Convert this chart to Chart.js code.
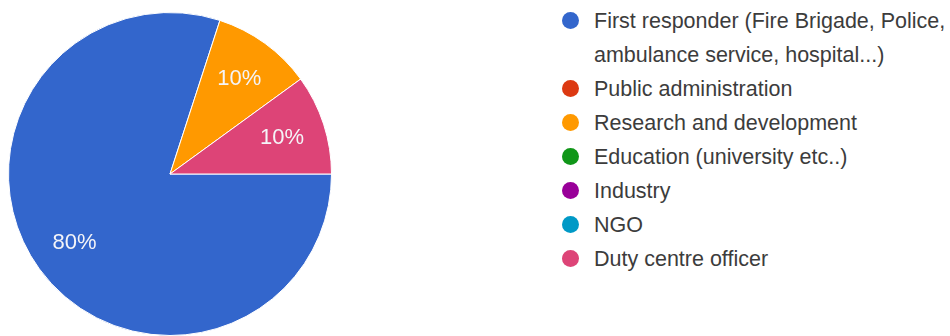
<!DOCTYPE html>
<html>
<head>
<meta charset="utf-8">
<script src="https://cdn.jsdelivr.net/npm/chart.js@4/dist/chart.umd.min.js"></script>
<style>
	html, body { margin: 0; padding: 0; background: #fff; }
	#wrap { position: relative; width: 950px; height: 336px; overflow: hidden; }
	#pieBox { position: absolute; left: 8px; top: 12px; width: 324px; height: 324px; }
	#legend { position: absolute; left: 562px; top: 4px; margin: 0; padding: 0; list-style: none;
		font-family: "Liberation Sans", Arial, sans-serif; font-size: 21.5px; line-height: 34px; color: #3c3c3c; }
	#legend li { position: relative; padding-left: 32px; width: 356px; white-space: normal; }
	#legend .dot { position: absolute; left: 0; top: 8px; width: 17px; height: 17px; border-radius: 50%; }
</style>
</head>
<body>
<div id="wrap">
	<div id="pieBox"><canvas id="chart1"></canvas></div>
	<ul id="legend"></ul>
</div>
<script>
//answers per group
var labels = [
	"First responder (Fire Brigade, Police, ambulance service, hospital...)",
	"Public administration",
	"Research and development",
	"Education (university etc..)",
	"Industry",
	"NGO",
	"Duty centre officer"
];
var counts = [8, 0, 1, 0, 0, 0, 1];
var colors = ["#3366cc", "#dc3912", "#ff9900", "#109618", "#990099", "#0099c6", "#dd4477"];

//build the legend list on the right
var legend = document.getElementById("legend");
for (var i = 0; i < labels.length; i++) {
	var li = document.createElement("li");
	var dot = document.createElement("span");
	dot.className = "dot";
	dot.style.background = colors[i];
	li.appendChild(dot);
	li.appendChild(document.createTextNode(labels[i]));
	legend.appendChild(li);
}

//writes the percentage inside each slice
var percentLabels = {
	id: "percentLabels",
	afterDatasetsDraw: function(chart) {
		var ctx = chart.ctx;
		var meta = chart.getDatasetMeta(0);
		var data = chart.data.datasets[0].data;
		var total = 0;
		for (var i = 0; i < data.length; i++) total += data[i];
		ctx.save();
		ctx.font = "22px 'Liberation Sans', Arial, sans-serif";
		ctx.fillStyle = "#f4f4f8";
		ctx.textAlign = "center";
		ctx.textBaseline = "middle";
		meta.data.forEach(function(arc, i) {
			if (!data[i]) return;
			var p = arc.getProps(["x", "y", "startAngle", "endAngle", "outerRadius"], true);
			var mid = (p.startAngle + p.endAngle) / 2;
			var r = p.outerRadius * 0.73;
			ctx.fillText(Math.round(data[i] / total * 100) + "%", p.x + Math.cos(mid) * r, p.y + Math.sin(mid) * r);
		});
		ctx.restore();
	}
};

var chart = new Chart(document.getElementById("chart1"), {
	type: "pie",
	data: {
		labels: labels,
		datasets: [{
			data: counts,
			backgroundColor: colors,
			borderColor: "#ffffff",
			borderWidth: 1
		}]
	},
	options: {
		responsive: true,
		maintainAspectRatio: false,
		animation: false,
		rotation: 90,
		layout: { padding: 0 },
		plugins: {
			legend: { display: false },
			tooltip: { enabled: false }
		}
	},
	plugins: [percentLabels]
});
</script>
</body>
</html>
